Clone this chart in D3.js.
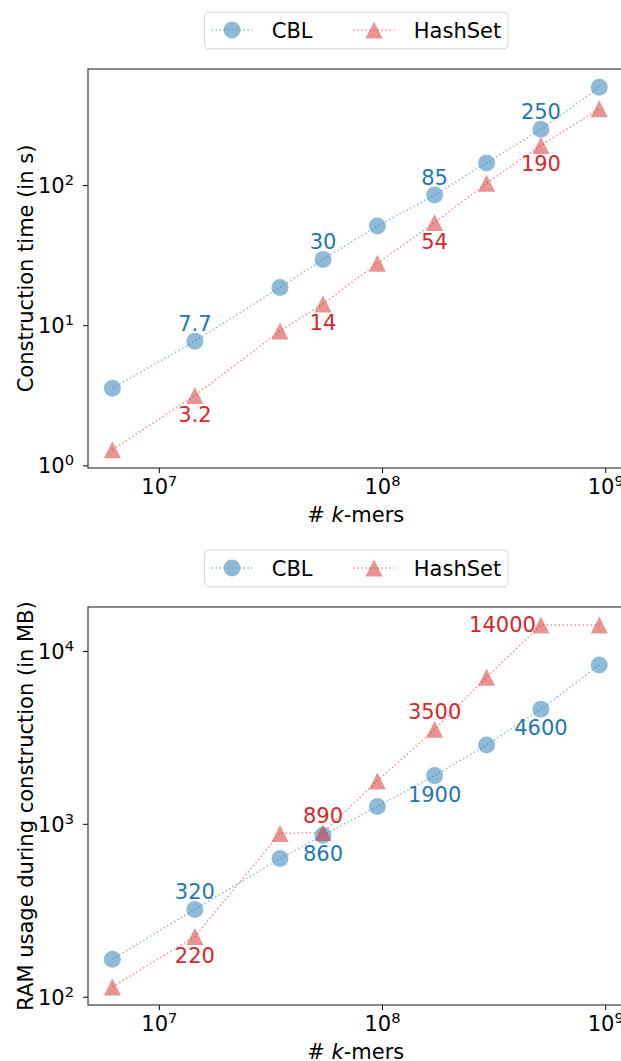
<!DOCTYPE html>
<html>
<head>
<meta charset="utf-8">
<script src="https://cdn.jsdelivr.net/npm/d3@7"></script>
<style>
  body { margin: 0; background: #fff; }
  svg { display: block; }
  text { font-family: "DejaVu Sans", sans-serif; }
</style>
</head>
<body>
<div id="chart"></div>
<script>
// number of k-mers per dataset (x)
const kmers = [6.19e6, 1.45e7, 3.49e7, 5.44e7, 9.53e7, 1.72e8, 2.94e8, 5.15e8, 9.4e8];

// construction time in s
const cblTime = [3.55, 7.7, 18.6, 29.5, 51, 85, 144, 250, 500];
const hashTime = [1.29, 3.15, 9.1, 14.2, 27.7, 54, 103, 192, 350];

// RAM usage in MB
const cblRam = [165, 320, 630, 860, 1260, 1900, 2860, 4600, 8300];
const hashRam = [114, 223, 880, 890, 1770, 3520, 7050, 14100, 14100];

// annotations: [index, text, side]
const cblTimeNotes = [[1, '7.7', 'above'], [3, '30', 'above'], [5, '85', 'above'], [7, '250', 'above']];
const hashTimeNotes = [[1, '3.2', 'below'], [3, '14', 'below'], [5, '54', 'below'], [7, '190', 'below']];
const cblRamNotes = [[1, '320', 'above'], [3, '860', 'below'], [5, '1900', 'below'], [7, '4600', 'below']];
const hashRamNotes = [[1, '220', 'below'], [3, '890', 'above'], [5, '3500', 'above'], [7, '14000', 'left']];

const seriesNames = ['CBL', 'HashSet'];
const xLabel = '# k-mers';

const width = 621, height = 1061;
const left = 88, right = 623.6; // right spine falls just outside the picture
const fontSize = 21;
const blue = '#1f77b4', red = '#d62728';
const markerSize = 17;

const svg = d3.select('#chart').append('svg')
    .attr('width', width)
    .attr('height', height);

// matplotlib-like 5% margin in log space
function paddedLogDomain(values) {
    const lo = Math.log10(d3.min(values));
    const hi = Math.log10(d3.max(values));
    const pad = (hi - lo) * 0.05;
    return [Math.pow(10, lo - pad), Math.pow(10, hi + pad)];
}

function logTicks(domain) {
    const major = [], minor = [];
    const e0 = Math.floor(Math.log10(domain[0])), e1 = Math.ceil(Math.log10(domain[1]));
    for (let e = e0; e <= e1; e++) {
        for (let m = 1; m < 10; m++) {
            const v = m * Math.pow(10, e);
            if (v < domain[0] || v > domain[1]) continue;
            (m === 1 ? major : minor).push(v);
        }
    }
    return { major, minor };
}

function powerLabel(sel) {
    sel.each(function(d) {
        const t = d3.select(this);
        t.text(null);
        t.append('tspan').text('10');
        t.append('tspan')
            .attr('font-size', fontSize * 0.7)
            .attr('dy', -8)
            .text(Math.round(Math.log10(d)));
    });
}

function triangle(s) {
    const h = s / 2;
    return `M0,${-h}L${-h},${h}L${h},${h}Z`;
}

function drawMarker(g, type, color) {
    if (type === 'circle') {
        g.append('circle').attr('r', markerSize / 2).attr('fill', color).attr('fill-opacity', 0.5);
    } else {
        g.append('path').attr('d', triangle(markerSize)).attr('fill', color).attr('fill-opacity', 0.5);
    }
}

const x = d3.scaleLog().domain(paddedLogDomain(kmers)).range([left, right]);

function drawLegend(cy) {
    const boxW = 303.4, boxH = 36.6;
    const bx = (left + right) / 2 - boxW / 2;
    const g = svg.append('g').attr('transform', `translate(${bx},${cy - boxH / 2})`);
    g.append('rect')
        .attr('x', 0.5).attr('y', 0.5)
        .attr('width', boxW).attr('height', boxH)
        .attr('rx', 4)
        .attr('fill', '#fff')
        .attr('stroke', '#d6d6d6')
        .attr('stroke-width', 1);
    const entries = [
        { name: seriesNames[0], color: blue, type: 'circle', x0: 7.4 },
        { name: seriesNames[1], color: red, type: 'triangle', x0: 149.4 }
    ];
    entries.forEach(e => {
        const eg = g.append('g').attr('transform', `translate(${e.x0},${boxH / 2})`);
        eg.append('line')
            .attr('x1', 0).attr('x2', 41)
            .attr('stroke', e.color).attr('stroke-opacity', 0.5)
            .attr('stroke-width', 1.5).attr('stroke-dasharray', '1.5,2.5');
        const mg = eg.append('g').attr('transform', 'translate(20.5,0)');
        drawMarker(mg, e.type, e.color);
        eg.append('text')
            .attr('x', 60.3).attr('y', 7.5)
            .attr('font-size', fontSize)
            .attr('fill', '#000')
            .text(e.name);
    });
}

function drawPanel(opts) {
    const { top, bottom, series, yLabel } = opts;
    const allY = series.flatMap(s => s.values);
    const y = d3.scaleLog().domain(paddedLogDomain(allY)).range([bottom, top]);
    const g = svg.append('g');

    // x ticks
    const xt = logTicks(x.domain());
    const xAxis = g.append('g').attr('transform', `translate(0,${bottom})`);
    xAxis.call(d3.axisBottom(x).tickValues(xt.minor).tickSize(3).tickFormat(''));
    xAxis.call(d3.axisBottom(x).tickValues(xt.major).tickSize(5));
    xAxis.select('.domain').remove();
    xAxis.selectAll('.tick text')
        .attr('y', 26.3).attr('dy', 0)
        .attr('font-size', fontSize)
        .attr('fill', '#000')
        .call(powerLabel);

    // y ticks
    const yt = logTicks(y.domain());
    const yAxis = g.append('g').attr('transform', `translate(${left},0)`);
    yAxis.call(d3.axisLeft(y).tickValues(yt.minor).tickSize(3).tickFormat(''));
    yAxis.call(d3.axisLeft(y).tickValues(yt.major).tickSize(5));
    yAxis.select('.domain').remove();
    yAxis.selectAll('.tick text')
        .attr('x', -14).attr('dy', 7.4)
        .attr('font-size', fontSize)
        .attr('fill', '#000')
        .call(powerLabel);
    g.selectAll('.tick line').attr('stroke', '#000').attr('stroke-width', 1);

    // spines
    g.append('rect')
        .attr('x', left).attr('y', top)
        .attr('width', right - left).attr('height', bottom - top)
        .attr('fill', 'none')
        .attr('stroke', '#3a3a3a')
        .attr('stroke-width', 1.2);

    // series
    series.forEach(s => {
        const pts = kmers.map((k, i) => [x(k), y(s.values[i])]);
        g.append('path')
            .attr('d', d3.line()(pts))
            .attr('fill', 'none')
            .attr('stroke', s.color)
            .attr('stroke-opacity', 0.5)
            .attr('stroke-width', 1.5)
            .attr('stroke-dasharray', '1.5,2.5');
        pts.forEach(p => {
            const mg = g.append('g').attr('transform', `translate(${p[0]},${p[1]})`);
            drawMarker(mg, s.type, s.color);
        });
    });

    // annotations
    series.forEach(s => {
        s.notes.forEach(([i, txt, side]) => {
            const px = x(kmers[i]), py = y(s.values[i]);
            const t = g.append('text')
                .attr('font-size', fontSize)
                .attr('fill', s.color)
                .text(txt);
            if (side === 'above') {
                t.attr('x', px).attr('y', py - 10).attr('text-anchor', 'middle');
            } else if (side === 'below') {
                t.attr('x', px).attr('y', py + 26).attr('text-anchor', 'middle');
            } else {
                t.attr('x', px - 5).attr('y', py + 7).attr('text-anchor', 'end');
            }
        });
    });

    // axis labels
    const xl = g.append('text')
        .attr('x', (left + right) / 2)
        .attr('y', bottom + 53.5)
        .attr('text-anchor', 'middle')
        .attr('font-size', fontSize)
        .attr('fill', '#000');
    xl.append('tspan').text('# ');
    xl.append('tspan').attr('font-style', 'italic').text('k');
    xl.append('tspan').text('-mers');

    g.append('text')
        .attr('transform', `translate(33,${(top + bottom) / 2}) rotate(-90)`)
        .attr('text-anchor', 'middle')
        .attr('font-size', fontSize)
        .attr('fill', '#000')
        .text(yLabel);
}

drawPanel({
    top: 69, bottom: 468,
    yLabel: 'Construction time (in s)',
    series: [
        { values: cblTime, color: blue, type: 'circle', notes: cblTimeNotes },
        { values: hashTime, color: red, type: 'triangle', notes: hashTimeNotes }
    ]
});
drawLegend(30);

drawPanel({
    top: 607, bottom: 1005,
    yLabel: 'RAM usage during construction (in MB)',
    series: [
        { values: cblRam, color: blue, type: 'circle', notes: cblRamNotes },
        { values: hashRam, color: red, type: 'triangle', notes: hashRamNotes }
    ]
});
drawLegend(568);
</script>
</body>
</html>
